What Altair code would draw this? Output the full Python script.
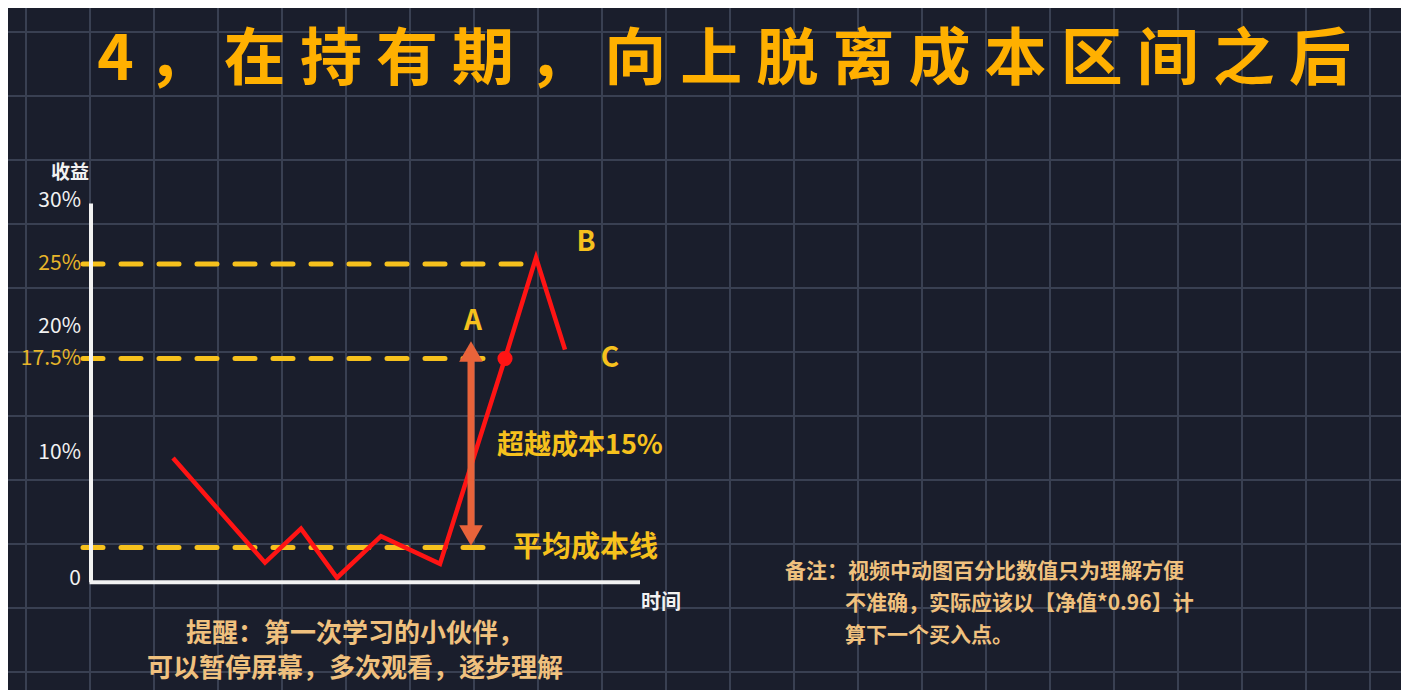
import altair as alt
import pandas as pd

FONT = "Noto Sans CJK SC"
BG = "#1a1e2c"
GRID = "#394052"
WHITE = "#f2f2f2"
GOLD = "#ffb000"
YELLOW = "#f6c11d"
RED = "#ff1414"
ARROW = "#e8633a"
TAN = "#f0c17e"

# values
title = "4 ， 在 持 有 期 ， 向 上 脱 离 成 本 区 间 之 后"
times = [8.2, 17.4, 21.0, 24.6, 29.0, 34.9, 41.4, 44.5, 47.4]
returns = [9.6, 1.3, 4.0, 0.1, 3.4, 1.2, 17.5, 25.5, 18.2]
tick_values = [0, 10, 17.5, 20, 25, 30]
tick_labels = ["0", "10%", "17.5%", "20%", "25%", "30%"]
tick_marked = [False, False, True, False, True, False]
level_values = [25, 17.5, 2.5]
level_ends = [43.6, 39.9, 39.6]
cost_level = 2.5
break_level = 17.5
breakout_time = 41.4
arrow_time = 38.0
axis_top = 29.8
axis_end = 54.9
grid_cols = list(range(22))
grid_rows = list(range(11))

reminder = ["提醒：第一次学习的小伙伴，", "可以暂停屏幕，多次观看，逐步理解"]
note = ["备注：视频中动图百分比数值只为理解方便",
        "不准确，实际应该以【净值*0.96】计",
        "算下一个买入点。"]

# chart area (page minus 8px margin); data units -> pixels
W, H = 1393, 682
X0, XPX = 83, 10.0
Y0, YPX = 571, 12.6
x_dom = [-X0 / XPX, (W - X0) / XPX]
y_dom = [(Y0 - H) / YPX, Y0 / YPX]


def X(f):
    return alt.X(f, type="quantitative", scale=alt.Scale(domain=x_dom, nice=False, zero=False))


def Y(f):
    return alt.Y(f, type="quantitative", scale=alt.Scale(domain=y_dom, nice=False, zero=False))


# background grid, its own scale (64px cells)
vgrid = alt.Chart(pd.DataFrame({"col": grid_cols})).mark_rule(
    color=GRID, strokeWidth=2).encode(
    x=alt.X("col:Q", scale=alt.Scale(domain=[-18 / 64, (W - 18) / 64], nice=False, zero=False)))
hgrid = alt.Chart(pd.DataFrame({"row": grid_rows})).mark_rule(
    color=GRID, strokeWidth=2).encode(
    y=alt.Y("row:Q", scale=alt.Scale(domain=[-24 / 64, (H - 24) / 64], nice=False, zero=False, reverse=True)))

red_line = alt.Chart(pd.DataFrame({"t": times, "r": returns})).mark_line(
    color=RED, strokeWidth=4.5).encode(x=X("t"), y=Y("r"))

levels = alt.Chart(pd.DataFrame({"lv": level_values, "end": level_ends, "start": -0.8})).mark_rule(
    color=YELLOW, strokeWidth=5, strokeDash=[20, 18], strokeCap="round"
).encode(x=X("start"), x2="end", y=Y("lv"))

axes_df = pd.DataFrame({"x1": [0, -0.15], "x2": [0, axis_end],
                        "y1": [-0.25, -0.25], "y2": [axis_top, -0.25]})
axes = alt.Chart(axes_df).mark_rule(color=WHITE, strokeWidth=4).encode(
    x=X("x1"), x2="x2", y=Y("y1"), y2="y2")

ticks = alt.Chart(pd.DataFrame({"v": tick_values, "lab": tick_labels, "hl": tick_marked, "t": -1.0})).mark_text(
    font=FONT, fontSize=21, align="right", baseline="middle"
).encode(
    x=X("t"), y=Y("v"), text="lab:N",
    color=alt.condition("datum.hl", alt.value("#e7b52a"), alt.value(WHITE)))

shaft = alt.Chart(pd.DataFrame({"t": [arrow_time], "a": [cost_level + 1.2], "b": [break_level - 0.2]})).mark_rule(
    color=ARROW, strokeWidth=7).encode(x=X("t"), y=Y("a"), y2="b")
head_up = alt.Chart(pd.DataFrame({"t": [arrow_time], "v": [break_level]})).mark_point(
    shape="triangle-up", filled=True, opacity=1, color=ARROW, size=560, yOffset=-7).encode(
    x=X("t"), y=Y("v"))
head_down = alt.Chart(pd.DataFrame({"t": [arrow_time], "v": [cost_level]})).mark_point(
    shape="triangle-down", filled=True, opacity=1, color=ARROW, size=560, yOffset=-12).encode(
    x=X("t"), y=Y("v"))

dot = alt.Chart(pd.DataFrame({"t": [breakout_time], "v": [break_level]})).mark_point(
    shape="circle", filled=True, opacity=1, color=RED, size=230).encode(
    x=X("t"), y=Y("v"))


def label(text, t, v, size, color, align="center"):
    return alt.Chart(pd.DataFrame({"t": [t], "v": [v], "s": [text]})).mark_text(
        font=FONT, fontSize=size, fontWeight="bold",
        color=color, align=align, baseline="middle"
    ).encode(x=X("t"), y=Y("v"), text="s:N")


texts = [
    label(title, 63.3, 41.1, 62, GOLD),
    label("收益", -2.1, 32.2, 19, WHITE),
    label("时间", 57.0, -1.9, 20, WHITE),
    label("A", 38.2, 20.4, 28, YELLOW),
    label("B", 49.5, 26.7, 28, YELLOW),
    label("C", 51.9, 17.5, 28, YELLOW),
    label("超越成本15%", 40.6, 10.56, 27, YELLOW, "left"),
    label("平均成本线", 42.2, 2.46, 29, YELLOW, "left"),
    label(reminder[0], 26.4, -4.37, 26, TAN),
    label(reminder[1], 26.4, -7.14, 26, TAN),
    label(note[0], 69.4, 0.56, 21, TAN, "left"),
    label(note[1], 75.4, -1.98, 21, TAN, "left"),
    label(note[2], 75.4, -4.52, 21, TAN, "left"),
]

chart = alt.layer(
    vgrid, hgrid, levels, red_line, axes, ticks, shaft, head_up, head_down, dot, *texts
).resolve_scale(
    x="independent", y="independent"
).properties(
    width=W, height=H, padding=0, autosize=alt.AutoSizeParams(type="none"),
    background=BG,
).configure_axis(disable=True).configure_view(stroke=None)

chart.save("out.html", embed_options={"renderer": "svg", "actions": False})
